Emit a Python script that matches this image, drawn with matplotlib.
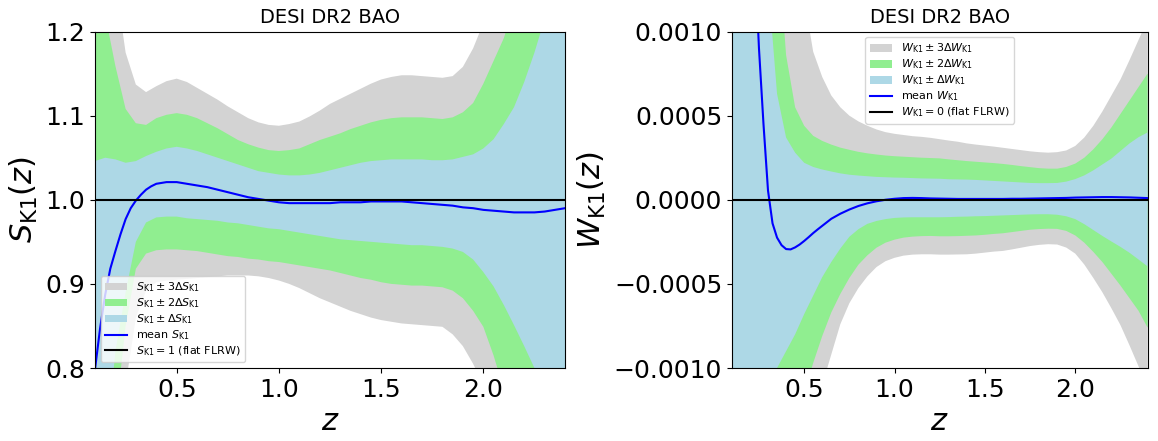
import numpy as np
import matplotlib
matplotlib.use("Agg")
import matplotlib.pyplot as plt
from matplotlib.ticker import FuncFormatter

# ---------------- data ----------------
# band grid (shared by both panels)
z_band = [0.10, 0.15, 0.20, 0.25, 0.30, 0.35, 0.40, 0.45, 0.50, 0.55, 0.60, 0.65,
          0.70, 0.75, 0.80, 0.85, 0.90, 0.95, 1.00, 1.05, 1.10, 1.15, 1.20, 1.25,
          1.30, 1.35, 1.40, 1.45, 1.50, 1.55, 1.60, 1.65, 1.70, 1.75, 1.80, 1.85,
          1.90, 1.95, 2.00, 2.05, 2.10, 2.15, 2.20, 2.25, 2.30, 2.35, 2.40]
# mean-curve grid (finer at low z)
z_mean = [0.100, 0.125, 0.150, 0.175, 0.200, 0.225, 0.250, 0.275, 0.300, 0.325,
          0.350, 0.375, 0.400, 0.425, 0.450, 0.475, 0.500, 0.525, 0.550, 0.575,
          0.600, 0.65, 0.70, 0.75, 0.80, 0.85, 0.90, 0.95, 1.00, 1.05, 1.10, 1.15,
          1.20, 1.25, 1.30, 1.35, 1.40, 1.45, 1.50, 1.55, 1.60, 1.65, 1.70, 1.75,
          1.80, 1.85, 1.90, 1.95, 2.00, 2.05, 2.10, 2.15, 2.20, 2.25, 2.30, 2.35, 2.40]

# S_K1 panel
S_mean = [0.798, 0.847, 0.887, 0.918, 0.939, 0.959, 0.977, 0.990, 0.999, 1.006,
          1.012, 1.016, 1.019, 1.020, 1.021, 1.021, 1.021, 1.020, 1.019, 1.018,
          1.017, 1.015, 1.012, 1.009, 1.006, 1.003, 1.001, 0.999, 0.997, 0.996,
          0.996, 0.996, 0.996, 0.996, 0.997, 0.997, 0.997, 0.998, 0.998, 0.998,
          0.998, 0.997, 0.996, 0.995, 0.994, 0.993, 0.991, 0.990, 0.988, 0.987,
          0.986, 0.985, 0.985, 0.985, 0.986, 0.988, 0.990]
S_up1 = [1.046, 1.050, 1.048, 1.044, 1.046, 1.052, 1.057, 1.061, 1.063, 1.061, 1.058,
         1.054, 1.050, 1.046, 1.042, 1.038, 1.034, 1.032, 1.030, 1.029, 1.029, 1.030,
         1.032, 1.035, 1.038, 1.041, 1.044, 1.046, 1.047, 1.048, 1.048, 1.048, 1.048,
         1.047, 1.047, 1.048, 1.051, 1.054, 1.061, 1.072, 1.090, 1.110, 1.140, 1.175,
         1.215, 1.260, 1.310]
S_up2 = [1.300, 1.220, 1.159, 1.108, 1.091, 1.089, 1.097, 1.101, 1.103, 1.101, 1.097,
         1.091, 1.085, 1.078, 1.071, 1.066, 1.062, 1.059, 1.058, 1.059, 1.061, 1.066,
         1.071, 1.075, 1.079, 1.084, 1.088, 1.092, 1.095, 1.097, 1.098, 1.098, 1.098,
         1.097, 1.096, 1.098, 1.104, 1.115, 1.138, 1.165, 1.192, 1.230, 1.270, 1.320,
         1.380, 1.450, 1.520]
S_up3 = [1.450, 1.350, 1.260, 1.175, 1.137, 1.128, 1.135, 1.141, 1.144, 1.140, 1.133,
         1.126, 1.119, 1.111, 1.104, 1.097, 1.092, 1.089, 1.088, 1.090, 1.093, 1.099,
         1.106, 1.114, 1.120, 1.126, 1.132, 1.138, 1.143, 1.146, 1.148, 1.148, 1.147,
         1.146, 1.145, 1.147, 1.158, 1.180, 1.210, 1.250, 1.300, 1.360, 1.430, 1.500,
         1.580, 1.660, 1.750]
S_lo1 = [0.550, 0.690, 0.820, 0.890, 0.950, 0.973, 0.979, 0.980, 0.980, 0.978, 0.977,
         0.976, 0.975, 0.973, 0.972, 0.970, 0.968, 0.966, 0.965, 0.963, 0.961, 0.959,
         0.957, 0.955, 0.953, 0.952, 0.951, 0.950, 0.949, 0.948, 0.947, 0.946, 0.946,
         0.945, 0.944, 0.942, 0.938, 0.929, 0.914, 0.897, 0.875, 0.851, 0.826, 0.800,
         0.770, 0.740, 0.700]
S_lo2 = [0.400, 0.580, 0.740, 0.850, 0.918, 0.936, 0.940, 0.941, 0.941, 0.940, 0.939,
         0.937, 0.935, 0.933, 0.932, 0.930, 0.929, 0.927, 0.926, 0.924, 0.922, 0.920,
         0.918, 0.916, 0.913, 0.910, 0.907, 0.905, 0.902, 0.900, 0.899, 0.898, 0.898,
         0.897, 0.896, 0.892, 0.883, 0.868, 0.849, 0.815, 0.775, 0.735, 0.695, 0.650,
         0.600, 0.550, 0.500]
S_lo3 = [0.200, 0.400, 0.620, 0.780, 0.860, 0.892, 0.902, 0.904, 0.905, 0.906, 0.907,
         0.908, 0.909, 0.910, 0.910, 0.910, 0.909, 0.907, 0.904, 0.900, 0.895, 0.889,
         0.883, 0.878, 0.873, 0.868, 0.864, 0.860, 0.857, 0.855, 0.853, 0.852, 0.851,
         0.850, 0.849, 0.840, 0.826, 0.805, 0.780, 0.740, 0.700, 0.650, 0.600, 0.550,
         0.500, 0.450, 0.400]

# W_K1 panel (in units of 1e-3)
W_mean = [6.0, 4.8, 3.8, 2.9, 2.15, 1.5, 0.90, 0.45, 0.055, -0.14,
          -0.225, -0.27, -0.293, -0.295, -0.283, -0.266, -0.245, -0.222, -0.198, -0.176,
          -0.155, -0.113, -0.083, -0.058, -0.037, -0.021, -0.009, 0.000, 0.006, 0.010,
          0.011, 0.010, 0.008, 0.007, 0.006, 0.005, 0.005, 0.005, 0.005, 0.005,
          0.005, 0.006, 0.006, 0.007, 0.008, 0.009, 0.010, 0.011, 0.013, 0.014,
          0.015, 0.016, 0.016, 0.015, 0.014, 0.012, 0.010]
W_up1 = [6.0, 4.6, 3.3, 2.2, 1.30, 0.63, 0.37, 0.28, 0.22, 0.195, 0.18, 0.168, 0.157,
         0.149, 0.144, 0.140, 0.136, 0.134, 0.132, 0.131, 0.129, 0.127, 0.126, 0.125,
         0.122, 0.121, 0.120, 0.118, 0.115, 0.112, 0.109, 0.106, 0.103, 0.100, 0.099,
         0.099, 0.100, 0.108, 0.123, 0.145, 0.175, 0.210, 0.245, 0.290, 0.335, 0.372,
         0.400]
W_up2 = [12.0, 9.0, 6.5, 4.5, 2.8, 1.6, 0.86, 0.55, 0.44, 0.38, 0.35, 0.328, 0.31,
         0.297, 0.285, 0.276, 0.269, 0.263, 0.259, 0.256, 0.253, 0.250, 0.248, 0.246,
         0.240, 0.235, 0.230, 0.226, 0.222, 0.218, 0.213, 0.207, 0.200, 0.194, 0.188,
         0.185, 0.185, 0.195, 0.215, 0.250, 0.300, 0.360, 0.430, 0.510, 0.590, 0.670,
         0.750]
W_up3 = [16.0, 12.5, 9.5, 7.0, 5.0, 3.4, 2.3, 1.65, 1.20, 0.88, 0.73, 0.62, 0.55,
         0.50, 0.466, 0.440, 0.418, 0.402, 0.392, 0.385, 0.378, 0.374, 0.368, 0.360,
         0.352, 0.345, 0.335, 0.328, 0.322, 0.316, 0.309, 0.302, 0.295, 0.288, 0.283,
         0.280, 0.283, 0.293, 0.320, 0.370, 0.440, 0.525, 0.620, 0.715, 0.830, 0.950,
         1.070]
W_lo1 = [-6.0, -4.5, -3.2, -2.2, -1.45, -1.0, -0.90, -0.80, -0.68, -0.57, -0.46,
         -0.37, -0.29, -0.22, -0.175, -0.143, -0.126, -0.115, -0.108, -0.105, -0.104,
         -0.104, -0.104, -0.104, -0.103, -0.101, -0.100, -0.098, -0.097, -0.095,
         -0.093, -0.091, -0.089, -0.087, -0.086, -0.086, -0.089, -0.098, -0.115,
         -0.145, -0.180, -0.215, -0.248, -0.280, -0.315, -0.355, -0.396]
W_lo2 = [-12.0, -9.0, -6.5, -4.5, -3.0, -2.1, -1.6, -1.35, -1.15, -0.97, -0.81,
         -0.67, -0.56, -0.465, -0.386, -0.330, -0.285, -0.255, -0.237, -0.225,
         -0.219, -0.216, -0.215, -0.217, -0.217, -0.216, -0.214, -0.212, -0.208,
         -0.203, -0.199, -0.192, -0.185, -0.178, -0.174, -0.172, -0.173, -0.185,
         -0.212, -0.255, -0.310, -0.370, -0.440, -0.510, -0.585, -0.660, -0.760]
W_lo3 = [-16.0, -12.5, -9.5, -7.0, -5.0, -3.6, -2.7, -2.05, -1.6, -1.3, -1.1,
         -0.92, -0.74, -0.615, -0.525, -0.455, -0.400, -0.365, -0.345, -0.332,
         -0.326, -0.324, -0.324, -0.326, -0.326, -0.325, -0.324, -0.320, -0.314,
         -0.308, -0.304, -0.295, -0.285, -0.275, -0.268, -0.264, -0.266, -0.284,
         -0.320, -0.385, -0.465, -0.550, -0.645, -0.745, -0.865, -0.990, -1.120]

x_ticks = [0.5, 1.0, 1.5, 2.0]
title = "DESI DR2 BAO"

# ---------------- plotting ----------------
fig = plt.figure(figsize=(11.58, 4.41), dpi=100)
axL = fig.add_axes([0.082, 0.1655, 0.406, 0.763])
axR = fig.add_axes([0.632, 0.1655, 0.359, 0.763])

zb = np.array(z_band)
zm = np.array(z_mean)
scale = 1e-3


def draw(ax, lo3, up3, lo2, up2, lo1, up1, mean, ref, sym, ref_lbl, s=1.0):
    ax.fill_between(zb, np.array(lo3) * s, np.array(up3) * s, color="lightgray", lw=0,
                    label=rf"${sym}_{{\rm K1}} \pm 3\Delta {sym}_{{\rm K1}}$")
    ax.fill_between(zb, np.array(lo2) * s, np.array(up2) * s, color="lightgreen", lw=0,
                    label=rf"${sym}_{{\rm K1}} \pm 2\Delta {sym}_{{\rm K1}}$")
    ax.fill_between(zb, np.array(lo1) * s, np.array(up1) * s, color="lightblue", lw=0,
                    label=rf"${sym}_{{\rm K1}} \pm \Delta {sym}_{{\rm K1}}$")
    ax.plot(zm, np.array(mean) * s, color="blue", lw=1.5,
            label=rf"mean ${sym}_{{\rm K1}}$")
    ax.axhline(ref, color="black", lw=1.5,
               label=rf"${sym}_{{\rm K1}} = {ref_lbl}$ (flat FLRW)")
    ax.set_xlim(0.1, 2.4)
    ax.set_xticks(x_ticks)
    ax.set_xlabel(r"$z$", fontsize=22)
    ax.set_title(title, fontsize=14)
    ax.tick_params(labelsize=18)


draw(axL, S_lo3, S_up3, S_lo2, S_up2, S_lo1, S_up1, S_mean, 1.0, "S", "1")
axL.set_ylim(0.8, 1.2)
axL.set_yticks([0.8, 0.9, 1.0, 1.1, 1.2])
axL.set_ylabel(r"$S_{\rm K1}(z)$", fontsize=22)
axL.legend(loc="lower left", fontsize=8, labelspacing=0.2)

draw(axR, W_lo3, W_up3, W_lo2, W_up2, W_lo1, W_up1, W_mean, 0.0, "W", "0", s=scale)
axR.set_ylim(-0.001, 0.001)
axR.set_yticks([-0.001, -0.0005, 0.0, 0.0005, 0.001])
axR.yaxis.set_major_formatter(FuncFormatter(lambda v, p: ("%.4f" % v).replace("-", "\u2212")
                                            if abs(v) > 1e-12 else "0.0000"))
axR.set_ylabel(r"$W_{\rm K1}(z)$", fontsize=22)
axR.legend(loc="upper center", fontsize=8, labelspacing=0.2)

fig.savefig("out.png", dpi=100)
